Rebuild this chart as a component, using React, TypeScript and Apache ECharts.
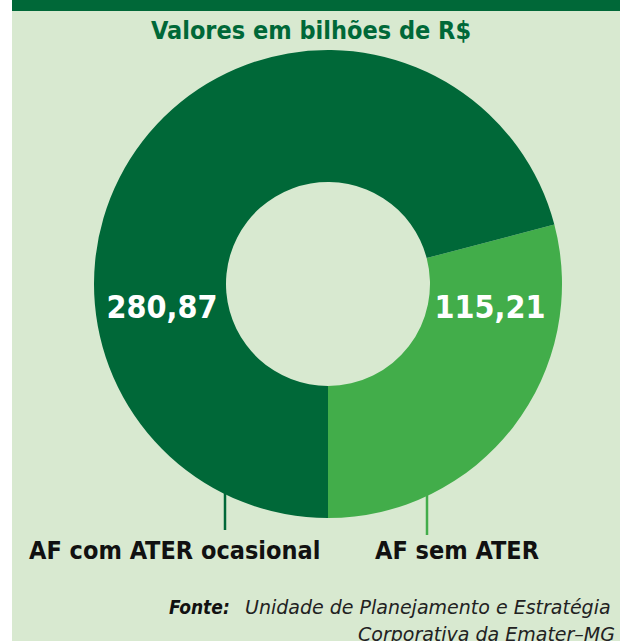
import React, { useEffect, useRef } from "react";
import * as echarts from "echarts";

const title = "Valores em bilhões de R$";
const categories = ["AF sem ATER", "AF com ATER ocasional"];
const values = [115.21, 280.87];
const valueLabels = ["115,21", "280,87"];
const sourceBold = "Fonte:";
const sourceLines = ["Unidade de Planejamento e Estratégia", "Corporativa da Emater–MG"];

const DARK = "#006838";
const LIGHT = "#42ad4a";
const BG = "#d8e9d0";
const FONT = "DejaVu Sans Condensed";
const FONT2 = "DejaVu Sans";

export default function App() {
  const ref = useRef<HTMLDivElement>(null);
  useEffect(() => {
    document.body.style.margin = "0";
    const chart = echarts.init(ref.current!, null, { renderer: "svg" });
    const labelPos = [
      { x: 490, y: 307 },
      { x: 162, y: 307 },
    ];
    chart.setOption({
      animation: false,
      graphic: [
        { type: "rect", z: -10, shape: { x: 12, y: 0, width: 608, height: 641 }, style: { fill: BG } },
        { type: "rect", z: -9, shape: { x: 12, y: 0, width: 608, height: 11 }, style: { fill: DARK } },
        {
          type: "text", x: 311, y: 30,
          style: { text: title, fill: DARK, font: `bold 25px "${FONT}"`, align: "center", verticalAlign: "middle" },
        },
        { type: "line", shape: { x1: 225, y1: 490, x2: 225, y2: 530 }, style: { stroke: DARK, lineWidth: 2.5 } },
        { type: "line", shape: { x1: 427, y1: 494, x2: 427, y2: 535 }, style: { stroke: LIGHT, lineWidth: 2.5 } },
        {
          type: "text", x: 29, y: 550,
          style: { text: categories[1], fill: "#111", font: `bold 25px "${FONT}"`, align: "left", verticalAlign: "middle" },
        },
        {
          type: "text", x: 375, y: 550,
          style: { text: categories[0], fill: "#111", font: `bold 25px "${FONT}"`, align: "left", verticalAlign: "middle" },
        },
        {
          type: "text", x: 169, y: 616,
          style: { text: sourceBold, fill: "#111", font: `italic bold 19px "${FONT}"`, align: "left", verticalAlign: "bottom" },
        },
        {
          type: "text", x: 245, y: 616,
          style: { text: sourceLines[0], fill: "#222", font: `italic 19px "${FONT2}"`, align: "left", verticalAlign: "bottom" },
        },
        {
          type: "text", x: 358, y: 643,
          style: { text: sourceLines[1], fill: "#222", font: `italic 19px "${FONT2}"`, align: "left", verticalAlign: "bottom" },
        },
      ],
      series: [
        {
          type: "pie",
          center: [328, 284],
          radius: [102, 234],
          startAngle: 270,
          clockwise: false,
          silent: true,
          itemStyle: { borderWidth: 0 },
          label: {
            show: true,
            position: "inside",
            formatter: (p: any) => valueLabels[p.dataIndex],
            color: "#ffffff",
            fontFamily: FONT,
            fontWeight: "bold",
            fontSize: 32,
          },
          labelLine: { show: false },
          labelLayout: (p: any) => ({ x: labelPos[p.dataIndex].x, y: labelPos[p.dataIndex].y, align: "center", verticalAlign: "middle" }),
          data: categories.map((c, i) => ({
            name: c,
            value: values[i],
            itemStyle: { color: i === 0 ? LIGHT : DARK },
          })),
        },
      ],
    });
    return () => chart.dispose();
  }, []);
  return <div ref={ref} style={{ width: 620, height: 641 }} />;
}
